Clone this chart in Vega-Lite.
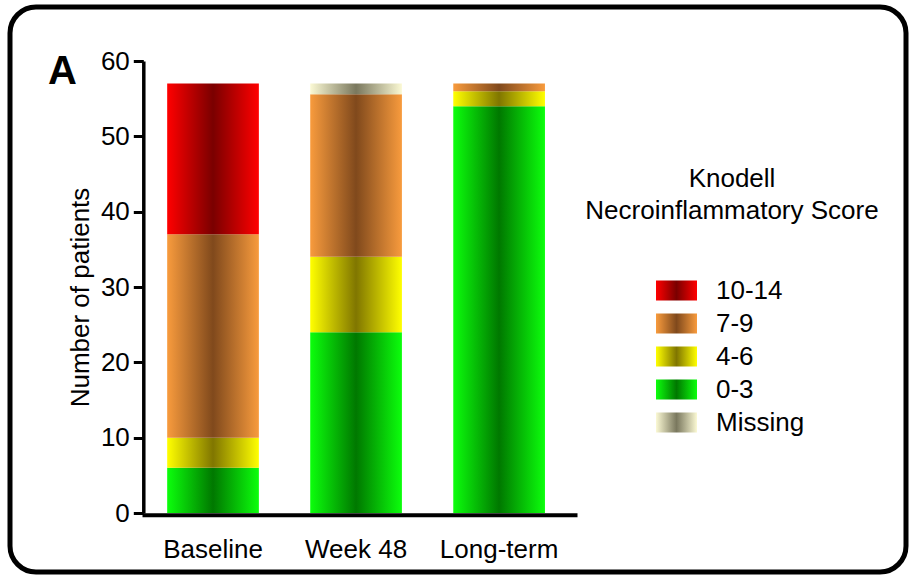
{
  "$schema": "https://vega.github.io/schema/vega-lite/v6.json",
  "width": 896,
  "height": 565,
  "autosize": {"type": "none"},
  "padding": {"left": 10, "top": 7, "right": 6, "bottom": 3},
  "background": "white",
  "title": {
    "text": "A",
    "anchor": "start",
    "frame": "group",
    "fontSize": 40,
    "fontWeight": "bold",
    "color": "black",
    "offset": 0,
    "dx": 38,
    "dy": 85
  },
  "data": {
    "values": [
      {"visit": "Baseline", "score": "0-3", "patients": 6},
      {"visit": "Baseline", "score": "4-6", "patients": 4},
      {"visit": "Baseline", "score": "7-9", "patients": 27},
      {"visit": "Baseline", "score": "10-14", "patients": 20},
      {"visit": "Week 48", "score": "0-3", "patients": 24},
      {"visit": "Week 48", "score": "4-6", "patients": 10},
      {"visit": "Week 48", "score": "7-9", "patients": 21.6},
      {"visit": "Week 48", "score": "Missing", "patients": 1.4},
      {"visit": "Long-term", "score": "0-3", "patients": 54},
      {"visit": "Long-term", "score": "4-6", "patients": 2},
      {"visit": "Long-term", "score": "7-9", "patients": 1}
    ]
  },
  "transform": [
    {"calculate": "indexof(['0-3','4-6','7-9','10-14','Missing'], datum.score)", "as": "stack_rank"}
  ],
  "mark": {"type": "bar", "strokeWidth": 0},
  "encoding": {
    "x": {
      "field": "visit",
      "type": "nominal",
      "sort": ["Baseline", "Week 48", "Long-term"],
      "scale": {"range": [132, 567], "paddingInner": 0.359, "paddingOuter": 0.2, "align": 0.44},
      "axis": {
        "title": null,
        "offset": -57.3,
        "ticks": false,
        "labelAngle": 0,
        "labelPadding": 22,
        "labelFontSize": 26,
        "labelColor": "black",
        "domainColor": "black",
        "domainWidth": 4,
        "grid": false
      }
    },
    "y": {
      "field": "patients",
      "type": "quantitative",
      "stack": "zero",
      "scale": {"domain": [0, 60], "range": [506, 54], "nice": false, "zero": true},
      "axis": {
        "title": "Number of patients",
        "values": [0, 10, 20, 30, 40, 50, 60],
        "offset": -133.3,
        "grid": false,
        "domainColor": "black",
        "domainWidth": 3.5,
        "tickColor": "black",
        "tickWidth": 3,
        "tickSize": 10,
        "labelPadding": 4,
        "labelFontSize": 26,
        "labelColor": "black",
        "titleFontSize": 26,
        "titleFontWeight": "normal",
        "titleColor": "black",
        "titlePadding": 7,
        "titleY": 290
      }
    },
    "color": {
      "field": "score",
      "type": "nominal",
      "scale": {
        "domain": ["10-14", "7-9", "4-6", "0-3", "Missing"],
        "range": [
          {"expr": "{gradient: 'linear', x1: 0, y1: 0, x2: 1, y2: 0, stops: [{offset: 0, color: '#ff0000'}, {offset: 0.5, color: '#7a0000'}, {offset: 1, color: '#ff0000'}]}"},
          {"expr": "{gradient: 'linear', x1: 0, y1: 0, x2: 1, y2: 0, stops: [{offset: 0, color: '#f89b3d'}, {offset: 0.5, color: '#80491c'}, {offset: 1, color: '#f89b3d'}]}"},
          {"expr": "{gradient: 'linear', x1: 0, y1: 0, x2: 1, y2: 0, stops: [{offset: 0, color: '#ffff00'}, {offset: 0.5, color: '#807600'}, {offset: 1, color: '#ffff00'}]}"},
          {"expr": "{gradient: 'linear', x1: 0, y1: 0, x2: 1, y2: 0, stops: [{offset: 0, color: '#0cff0c'}, {offset: 0.5, color: '#007800'}, {offset: 1, color: '#0cff0c'}]}"},
          {"expr": "{gradient: 'linear', x1: 0, y1: 0, x2: 1, y2: 0, stops: [{offset: 0, color: '#fbf9d4'}, {offset: 0.5, color: '#7a785e'}, {offset: 1, color: '#fbf9d4'}]}"}
        ]
      },
      "legend": {
        "orient": "none",
        "legendX": 575,
        "legendY": 159,
        "padding": 0,
        "title": ["Knodell", "Necroinflammatory Score"],
        "titleFontSize": 26,
        "titleFontWeight": "normal",
        "titleColor": "black",
        "titleAlign": "center",
        "titleAnchor": "middle",
        "titleLineHeight": 32,
        "titlePadding": 50,
        "titleLimit": 400,
        "labelFontSize": 26,
        "labelColor": "black",
        "labelOffset": 23,
        "labelLimit": 200,
        "symbolType": "M-1.2424,-0.606H1.2424V0.606H-1.2424Z",
        "symbolSize": 1089,
        "symbolStrokeWidth": 0,
        "symbolOpacity": 1,
        "rowPadding": 3
      }
    },
    "order": {"field": "stack_rank", "type": "quantitative", "sort": "ascending"}
  },
  "config": {
    "font": "Liberation Sans",
    "view": {"stroke": "black", "strokeWidth": 5, "cornerRadius": 26, "fill": "white"}
  }
}
